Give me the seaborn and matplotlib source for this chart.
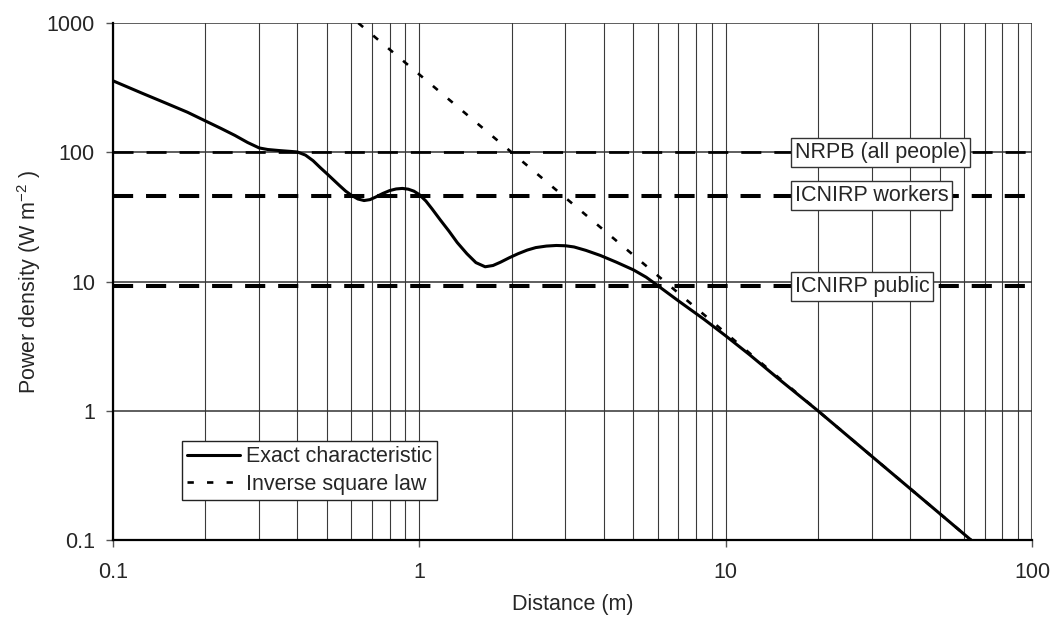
import matplotlib
matplotlib.use("Agg")
import matplotlib.pyplot as plt
from matplotlib.ticker import FixedLocator, FuncFormatter, NullFormatter
import seaborn as sns
import pandas as pd

# Exact near/far-field power density characteristic (distance in m, W m^-2)
exact_distance = [0.1, 0.125, 0.15, 0.175, 0.2, 0.225, 0.25, 0.275, 0.3, 0.32,
                  0.35, 0.38, 0.4, 0.425, 0.45, 0.475, 0.5, 0.525, 0.55, 0.575,
                  0.6, 0.63, 0.66, 0.69, 0.72, 0.76, 0.8, 0.84, 0.88, 0.92,
                  0.96, 1.0, 1.05, 1.1, 1.17, 1.25, 1.33, 1.43, 1.53, 1.64,
                  1.74, 1.84, 1.97, 2.1, 2.25, 2.4, 2.6, 2.8, 3.0, 3.2,
                  3.5, 3.9, 4.4, 5.0, 5.5, 6.0, 7.0, 8.5, 10.0, 12.0,
                  15.0, 20.0, 30.0, 50.0, 63.2, 100.0]
exact_power = [357, 285, 238, 204, 175, 153, 135, 119, 108, 105,
               103, 101.5, 100.5, 95, 86, 76, 68, 61, 55, 50,
               46.5, 43.5, 42.3, 43, 45, 48, 50.5, 52, 52.5, 51.8,
               50, 47, 42, 36.5, 30, 24.5, 20, 16.4, 14, 13.0,
               13.3, 14.1, 15.3, 16.4, 17.5, 18.3, 18.8, 19.0, 18.9, 18.5,
               17.4, 15.9, 14.1, 12.3, 10.8, 9.3, 7.1, 5.1, 3.8, 2.7,
               1.74, 1.0, 0.444, 0.16, 0.1, 0.04]

# Inverse square law approximation (straight line on log-log axes)
inverse_distance = [0.632, 100.0]
inverse_power = [1000.0, 0.04]

# Exposure guideline levels
limit_labels = ["NRPB (all people)", "ICNIRP workers", "ICNIRP public"]
limit_values = [100.0, 46.0, 9.2]

series_labels = ["Exact characteristic", "Inverse square law"]
x_ticks = [0.1, 1, 10, 100]
y_ticks = [0.1, 1, 10, 100, 1000]

sns.set_style("white")
plt.rcParams["font.family"] = ["Liberation Sans", "DejaVu Sans"]
plt.rcParams["mathtext.fontset"] = "custom"
plt.rcParams["mathtext.rm"] = "Liberation Sans"
plt.rcParams["mathtext.it"] = "Liberation Sans:italic"
plt.rcParams["mathtext.sf"] = "Liberation Sans"
FS = 15.5

fig = plt.figure(figsize=(10.51, 6.18), dpi=100)
ax = fig.add_axes([113 / 1051, 1 - 540 / 618, 919 / 1051, 517 / 618])
ax.set_xscale("log")
ax.set_yscale("log")
ax.set_xlim(0.1, 100)
ax.set_ylim(0.1, 1000)

# grid: every decade subdivision vertically, decades horizontally
for dec in [0.1, 1, 10]:
    for m in range(1, 10):
        ax.axvline(dec * m, color="#3a3a3a", lw=0.8, zorder=1)
ax.axvline(100, color="#555555", lw=1.5, zorder=1)
for yv in y_ticks:
    ax.axhline(yv, color="#333333", lw=1.1, zorder=1)

# guideline levels
limit_styles = [dict(lw=1.95, dashes=(7.4, 4.8)),
                dict(lw=2.9, dashes=(5.0, 3.2)),
                dict(lw=2.9, dashes=(5.0, 3.2))]
for lab, val, st in zip(limit_labels, limit_values, limit_styles):
    ax.axhline(val, color="black", zorder=2, **st)
    ax.text(16.8, val, lab, ha="left", va="center", fontsize=FS, zorder=5,
            bbox=dict(boxstyle="square,pad=0.18", facecolor="white",
                      edgecolor="#333333", lw=1.0))

exact_df = pd.DataFrame({"distance": exact_distance, "power": exact_power})
inv_df = pd.DataFrame({"distance": inverse_distance, "power": inverse_power})

sns.lineplot(data=inv_df, x="distance", y="power", ax=ax, color="black",
             lw=1.9, label=series_labels[1], zorder=3,
             linestyle=(0, (2.4, 5.0)))
sns.lineplot(data=exact_df, x="distance", y="power", ax=ax, color="black",
             lw=2.2, label=series_labels[0], zorder=4)

handles, labels = ax.get_legend_handles_labels()
order = [labels.index(series_labels[0]), labels.index(series_labels[1])]
leg = ax.legend([handles[i] for i in order], [labels[i] for i in order],
                loc="lower left", bbox_to_anchor=(69 / 919, 40 / 517),
                fontsize=FS, frameon=True, fancybox=False, framealpha=1,
                edgecolor="#222222", borderpad=0.25, labelspacing=0.3,
                handlelength=2.45, handletextpad=0.25, borderaxespad=0)
leg.get_frame().set_linewidth(1.0)
leg.set_zorder(6)

ax.xaxis.set_major_locator(FixedLocator(x_ticks))
ax.yaxis.set_major_locator(FixedLocator(y_ticks))
ax.xaxis.set_minor_formatter(NullFormatter())
ax.yaxis.set_minor_formatter(NullFormatter())
fmt = FuncFormatter(lambda v, p: f"{v:g}")
ax.xaxis.set_major_formatter(fmt)
ax.yaxis.set_major_formatter(fmt)
ax.tick_params(axis="both", which="major", direction="out", length=5,
               width=1.0, color="#555555", labelsize=FS, bottom=True, left=True)
ax.tick_params(axis="x", which="major", pad=11)
ax.tick_params(axis="y", which="major", pad=8)
ax.tick_params(axis="both", which="minor", length=0)

for side in ["left", "bottom"]:
    ax.spines[side].set_color("black")
    ax.spines[side].set_linewidth(1.6)
for side in ["top", "right"]:
    ax.spines[side].set_visible(False)

ax.set_xlabel("Distance (m)", fontsize=FS, labelpad=8)
ax.set_ylabel(r"Power density (W m$^{-2}$ )", fontsize=FS, labelpad=3)

fig.savefig("out.png", dpi=100)
